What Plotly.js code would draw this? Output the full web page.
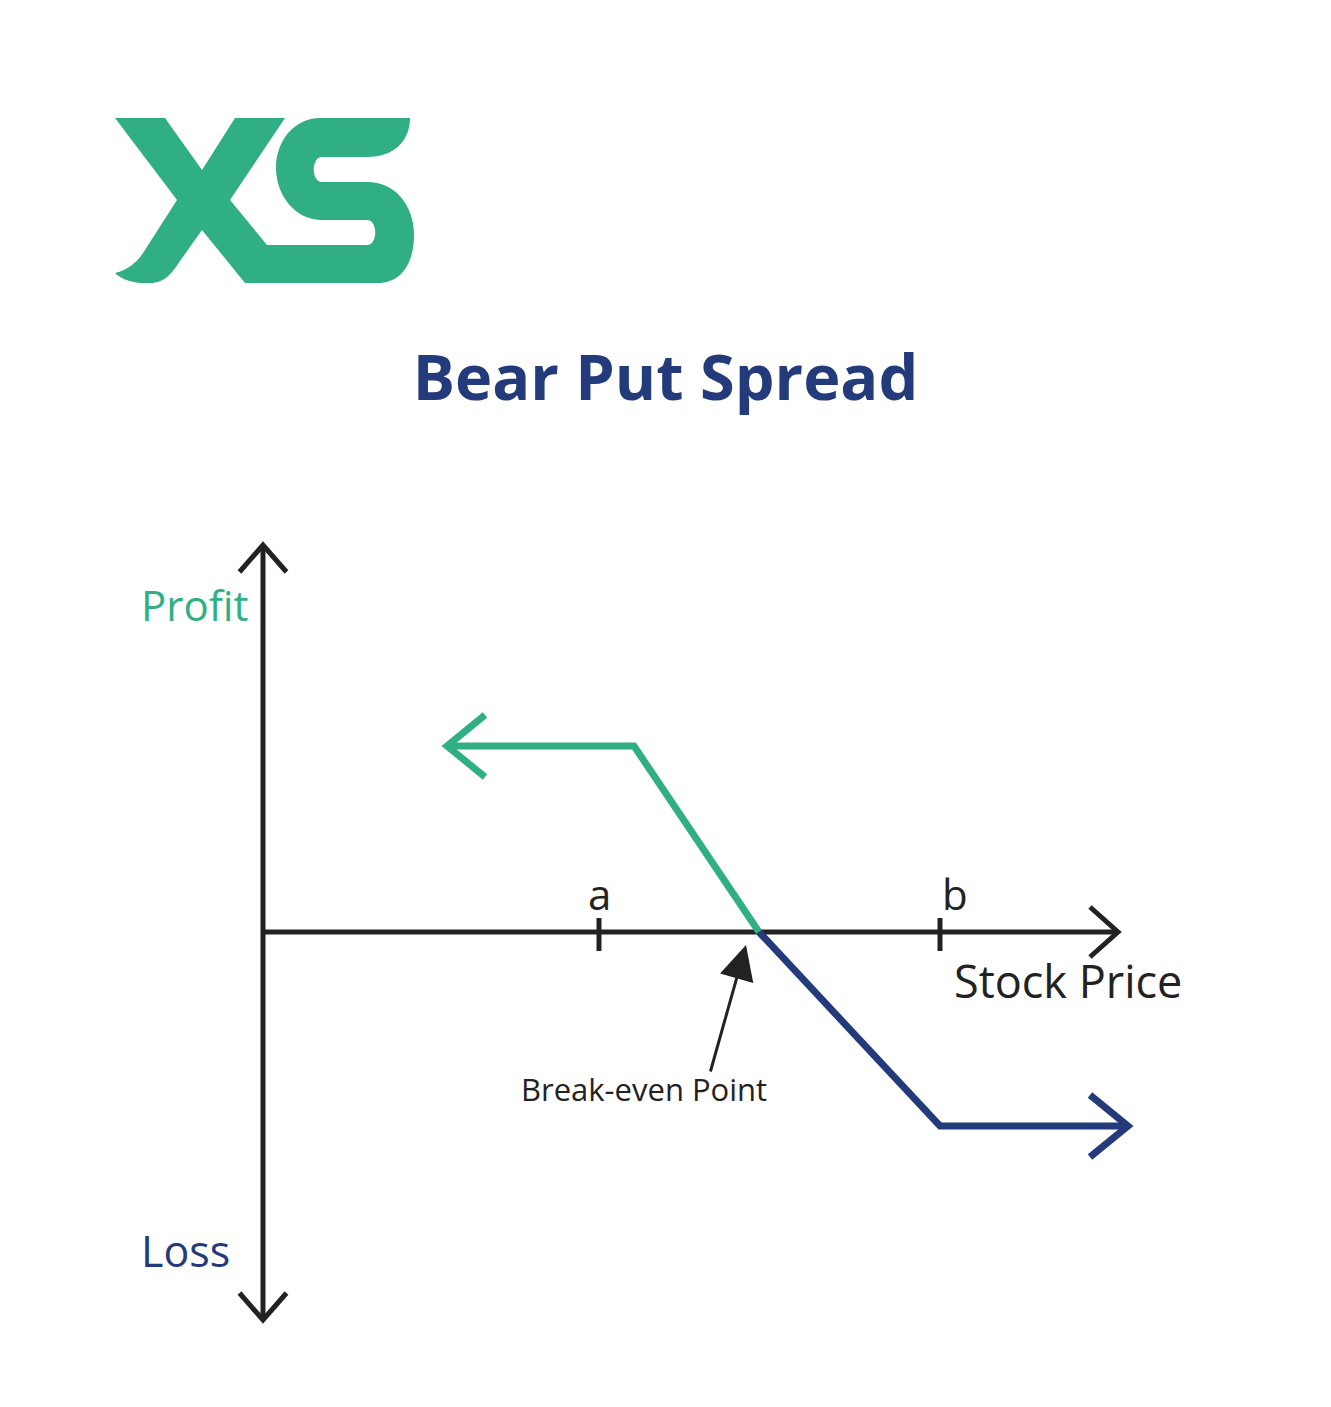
<!DOCTYPE html>
<html><head><meta charset="utf-8">
<script src="https://cdn.plot.ly/plotly-3.0.1.min.js"></script>
<style>html,body{margin:0;padding:0;background:#fff}#chart{width:1331px;height:1407px}</style>
</head><body><div id="chart"></div>
<script>
// ---- data (chart units: price along x, profit/loss along y) ----
const chartTitle = 'Bear Put Spread';
const priceTickValues = [33.6, 67.7];
const priceTickLabels = ['a', 'b'];
const profitX = [18.4, 37.1, 49.6];
const profitY = [18.6, 18.6, 0];
const lossX = [49.6, 67.7, 86.5];
const lossY = [0, -19.4, -19.4];
const breakEven = 49.6;
const priceAxisEnd = 85.5;
const pnlAxisTop = 38.7;
const pnlAxisBottom = -38.8;
const axisLabels = {profit: 'Profit', loss: 'Loss', price: 'Stock Price', breakEven: 'Break-even Point'};

// ---- styles ----
const GREEN = '#31AF84', NAVY = '#233B7A', DARK = '#222222';
const FONT = 'Open Sans, sans-serif';
const W = 1331, H = 1407;

function chevron(tx, ty, dir, along, across) {
  if (dir === 'left')  return {x: [tx + along, tx, tx + along], y: [ty + across, ty, ty - across]};
  if (dir === 'right') return {x: [tx - along, tx, tx - along], y: [ty + across, ty, ty - across]};
  if (dir === 'up')    return {x: [tx - across, tx, tx + across], y: [ty - along, ty, ty - along]};
  return {x: [tx - across, tx, tx + across], y: [ty + along, ty, ty + along]};
}
function line(x, y, color, width) {
  return {type: 'scatter', mode: 'lines', x: x, y: y, xaxis: 'x', yaxis: 'y',
    line: {color: color, width: width}, hoverinfo: 'skip', showlegend: false};
}

const traces = [];
// axes
traces.push(line([0, priceAxisEnd], [0, 0], DARK, 5));
traces.push(line([0, 0], [pnlAxisBottom, pnlAxisTop], DARK, 5));
let c = chevron(priceAxisEnd, 0, 'right', 2.8, 2.5); traces.push(line(c.x, c.y, DARK, 5));
c = chevron(0, pnlAxisTop, 'up', 2.7, 2.35); traces.push(line(c.x, c.y, DARK, 5));
c = chevron(0, pnlAxisBottom, 'down', 2.7, 2.35); traces.push(line(c.x, c.y, DARK, 5));
// ticks
priceTickValues.forEach(v => traces.push(line([v, v], [1.4, -1.9], DARK, 5)));
// payoff
traces.push(line(lossX, lossY, NAVY, 7));
c = chevron(lossX[lossX.length - 1], lossY[lossY.length - 1], 'right', 3.8, 3.1); traces.push(line(c.x, c.y, NAVY, 7));
traces.push(line(profitX, profitY, GREEN, 7));
c = chevron(profitX[0], profitY[0], 'left', 3.8, 3.1); traces.push(line(c.x, c.y, GREEN, 7));

// logo (pixel space)
const logoX = 'M115,118 L165,118 L202,170 L235,118 L285,118 L230,200 L267,245 L285,283 L245,283 L202,230 L180,261 C172,273 165,283 150,283 C135,284 122,280 115,273 C128,270 137,262 143,253 L177,200 Z';
const logoS = 'M320,118 L410,118 C410,140 395,157 367,157 L322,157 C311,157 311,182 322,182 L367,182 C395,182 414,205 414,235 C414,265 400,283 378,283 L245,283 L267,245 L367,245 C378,245 378,220 367,220 L322,220 C295,220 276,195 276,168 C276,140 295,118 320,118 Z';
const shapes = [logoX, logoS].map(p => ({type: 'path', path: p, xref: 'x2', yref: 'y2',
  fillcolor: GREEN, line: {width: 0}, layer: 'above'}));

const annotations = [];
priceTickLabels.forEach((t, i) => annotations.push({x: priceTickValues[i], y: 3.9, xref: 'x', yref: 'y',
  text: t, showarrow: false, xshift: i === 1 ? 15 : 0, font: {family: FONT, size: 42, color: DARK}}));
annotations.push({x: 139, y: 604, xref: 'x2', yref: 'y2', xanchor: 'left', text: axisLabels.profit,
  showarrow: false, font: {family: FONT, size: 42, color: GREEN}});
annotations.push({x: 139, y: 1250, xref: 'x2', yref: 'y2', xanchor: 'left', text: axisLabels.loss,
  showarrow: false, font: {family: FONT, size: 43, color: NAVY}});
annotations.push({x: 952, y: 980, xref: 'x2', yref: 'y2', xanchor: 'left', text: axisLabels.price,
  showarrow: false, font: {family: FONT, size: 45, color: DARK}});
annotations.push({x: 644, y: 1089, xref: 'x2', yref: 'y2', text: axisLabels.breakEven,
  showarrow: false, font: {family: FONT, size: 31, color: DARK}});
annotations.push({x: breakEven - 1.3, y: -1.3, xref: 'x', yref: 'y', axref: 'x', ayref: 'y',
  ax: breakEven - 4.9, ay: -14.1, text: '', showarrow: true, arrowhead: 2, arrowsize: 2.3,
  arrowwidth: 3, arrowcolor: DARK});

const layout = {
  width: W, height: H, margin: {l: 0, r: 0, t: 0, b: 0},
  paper_bgcolor: '#fff', plot_bgcolor: '#fff', showlegend: false,
  title: {text: '<b>' + chartTitle + '</b>', x: 0.5, xanchor: 'center', y: 1 - 378 / H, yanchor: 'middle',
    xref: 'paper', yref: 'paper', font: {family: FONT, size: 63, color: NAVY}},
  xaxis: {range: [-26.3, 106.8], visible: false, fixedrange: true},
  yaxis: {range: [-47.5, 93.2], visible: false, fixedrange: true},
  xaxis2: {range: [0, W], overlaying: 'x', visible: false},
  yaxis2: {range: [H, 0], overlaying: 'y', visible: false},
  shapes: shapes, annotations: annotations
};
Plotly.newPlot('chart', traces, layout, {staticPlot: true, displayModeBar: false});
</script></body></html>
